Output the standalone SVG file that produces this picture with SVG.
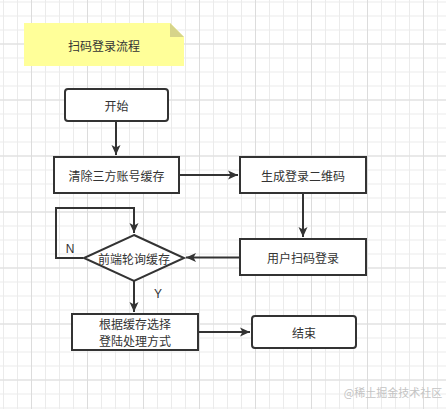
<svg xmlns="http://www.w3.org/2000/svg" width="446" height="409" viewBox="0 0 446 409">
<defs>
<pattern id="minor" x="3" y="1.5" width="14" height="14" patternUnits="userSpaceOnUse">
<path d="M0.5,0 V14 M0,0.5 H14" fill="none" stroke="#ebebeb" stroke-width="1"/>
</pattern>
<pattern id="major" x="31" y="43.5" width="56" height="56" patternUnits="userSpaceOnUse">
<path d="M0.5,0 V56 M0,0.5 H56" fill="none" stroke="#dcdcdc" stroke-width="1"/>
</pattern>
<marker id="arr" markerUnits="userSpaceOnUse" markerWidth="12" markerHeight="10" refX="10" refY="5" orient="auto">
<path d="M0,0.5 L10,5 L0,9.5 L2.5,5 Z" fill="#333"/>
</marker>
</defs>
<style>
.box{fill:#fff;stroke:#333;stroke-width:2}
.t{font-family:"Noto Sans CJK SC","Noto Sans",sans-serif;font-size:12px;fill:#333;text-anchor:middle;dominant-baseline:central}
.lbl{font-family:"Liberation Sans",sans-serif;font-size:12px;fill:#333;text-anchor:middle}
.edge{fill:none;stroke:#333;stroke-width:2}
</style>
<rect width="446" height="409" fill="#fff"/>
<rect width="446" height="409" fill="url(#minor)"/>
<rect width="446" height="409" fill="url(#major)"/>

<g id="note">
<path d="M24,23 H170 L184,37 V66 H24 Z" fill="#ffff99"/>
<path d="M170,23 L184,37 H170 Z" fill="#d6d48a"/>
<text class="t" x="104" y="45">扫码登录流程</text>
</g>

<g id="connectors">
<path class="edge" d="M116,121 V155" marker-end="url(#arr)"/>
<path class="edge" d="M179,175 H238" marker-end="url(#arr)"/>
<path class="edge" d="M303,193 V237" marker-end="url(#arr)"/>
<path class="edge" d="M240,257.5 H186" marker-end="url(#arr)"/>
<path class="edge" d="M83,258 H56 V208 H134 V233" marker-end="url(#arr)"/>
<path class="edge" d="M134,281 V312" marker-end="url(#arr)"/>
<path class="edge" d="M198,332 H250" marker-end="url(#arr)"/>
<text class="lbl" x="70" y="253">N</text>
<text class="lbl" x="158" y="298">Y</text>
</g>

<g id="start">
<rect class="box" x="65" y="89" width="103" height="32" rx="3"/>
<text class="t" x="116.5" y="105">开始</text>
</g>
<g id="clear">
<rect class="box" x="54" y="157" width="125" height="36"/>
<text class="t" x="116.5" y="175">清除三方账号缓存</text>
</g>
<g id="gen">
<rect class="box" x="240" y="157" width="126" height="36"/>
<text class="t" x="303" y="175">生成登录二维码</text>
</g>
<g id="scan">
<rect class="box" x="240" y="239" width="126" height="36"/>
<text class="t" x="303" y="257">用户扫码登录</text>
</g>
<g id="poll">
<path class="box" d="M134,235 L184,258 L134,281 L84,258 Z"/>
<text class="t" x="134" y="258">前端轮询缓存</text>
</g>
<g id="choose">
<rect class="box" x="72" y="314" width="126" height="36"/>
<text class="t" x="135" y="323.5">根据缓存选择</text>
<text class="t" x="135" y="340.5">登陆处理方式</text>
</g>
<g id="end">
<rect class="box" x="252" y="316" width="104" height="32" rx="3"/>
<text class="t" x="304" y="332">结束</text>
</g>
<text x="393" y="392" style="font-family:'Noto Sans CJK SC',sans-serif;font-size:11px;fill:#c4c4c4;text-anchor:middle;dominant-baseline:central">@稀土掘金技术社区</text>
</svg>
